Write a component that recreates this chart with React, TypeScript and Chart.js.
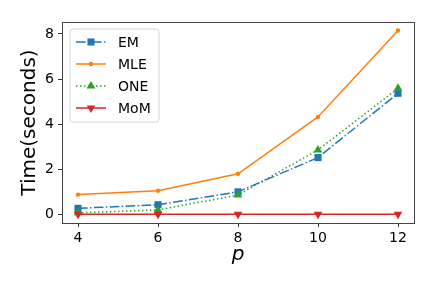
import React, { useEffect, useRef } from "react";
import { Chart, registerables } from "chart.js";

Chart.register(...registerables);

const pValues = [4, 6, 8, 10, 12];
const xTickValues = [4, 6, 8, 10, 12];
const yTickValues = [0, 2, 4, 6, 8];
const emTimes = [0.27, 0.43, 1.0, 2.52, 5.37];
const mleTimes = [0.88, 1.05, 1.8, 4.32, 8.15];
const oneTimes = [0.07, 0.2, 0.86, 2.86, 5.59];
const momTimes = [0.01, 0.01, 0.01, 0.01, 0.01];
const seriesNames = ["EM", "MLE", "ONE", "MoM"];

const FONT = "'DejaVu Sans', 'Liberation Sans', sans-serif";

const toPoints = (ys: number[]) => pValues.map((x, i) => ({ x, y: ys[i] }));

const framePlugin = {
  id: "frame",
  afterDatasetsDraw(chart: any) {
    const { ctx, chartArea } = chart;
    ctx.save();
    ctx.strokeStyle = "#444";
    ctx.lineWidth = 1;
    ctx.strokeRect(
      Math.round(chartArea.left) + 0.5,
      Math.round(chartArea.top) + 0.5,
      Math.round(chartArea.right - chartArea.left),
      Math.round(chartArea.bottom - chartArea.top)
    );
    ctx.restore();
  },
};

const legendPlugin = {
  id: "customLegend",
  afterDraw(chart: any) {
    const { ctx } = chart;
    const bx = 70, by = 29, bw = 89, bh = 93, r = 3;
    ctx.save();
    ctx.beginPath();
    ctx.moveTo(bx + r, by);
    ctx.arcTo(bx + bw, by, bx + bw, by + bh, r);
    ctx.arcTo(bx + bw, by + bh, bx, by + bh, r);
    ctx.arcTo(bx, by + bh, bx, by, r);
    ctx.arcTo(bx, by, bx + bw, by, r);
    ctx.closePath();
    ctx.fillStyle = "rgba(255,255,255,0.85)";
    ctx.fill();
    ctx.strokeStyle = "#d4d4d4";
    ctx.lineWidth = 1;
    ctx.stroke();
    const rowY = [42, 64, 86, 108];
    chart.data.datasets.forEach((ds: any, i: number) => {
      const y = rowY[i];
      ctx.save();
      ctx.strokeStyle = ds.borderColor;
      ctx.lineWidth = ds.borderWidth;
      ctx.setLineDash(ds.borderDash || []);
      ctx.beginPath();
      ctx.moveTo(76, y);
      ctx.lineTo(106, y);
      ctx.stroke();
      ctx.restore();
      ctx.save();
      ctx.setLineDash([]);
      ctx.fillStyle = ds.pointBackgroundColor;
      ctx.strokeStyle = ds.pointBackgroundColor;
      ctx.translate(91, y);
      ctx.rotate(((ds.pointRotation || 0) * Math.PI) / 180);
      const rad = ds.pointRadius;
      ctx.beginPath();
      if (ds.pointStyle === "rect") {
        const s = rad * Math.SQRT1_2;
        ctx.rect(-s, -s, 2 * s, 2 * s);
      } else if (ds.pointStyle === "triangle") {
        let a = 0;
        ctx.moveTo(Math.sin(a) * rad, -Math.cos(a) * rad);
        a += (2 * Math.PI) / 3;
        ctx.lineTo(Math.sin(a) * rad, -Math.cos(a) * rad);
        a += (2 * Math.PI) / 3;
        ctx.lineTo(Math.sin(a) * rad, -Math.cos(a) * rad);
        ctx.closePath();
      } else {
        ctx.arc(0, 0, rad, 0, Math.PI * 2);
      }
      ctx.fill();
      ctx.restore();
      ctx.fillStyle = "#000";
      ctx.font = `14px ${FONT}`;
      ctx.textBaseline = "middle";
      ctx.textAlign = "left";
      ctx.fillText(ds.label, 118, y + 1);
    });
    ctx.restore();
  },
};

export default function App() {
  const canvasRef = useRef<HTMLCanvasElement | null>(null);

  useEffect(() => {
    const canvas = canvasRef.current;
    if (!canvas) return;
    const chart = new Chart(canvas, {
      type: "line",
      data: {
        datasets: [
          {
            label: seriesNames[0],
            data: toPoints(emTimes),
            borderColor: "#1f77b4",
            backgroundColor: "#1f77b4",
            pointBackgroundColor: "#1f77b4",
            borderWidth: 1.5,
            borderDash: [9.6, 2.4, 1.5, 2.4],
            pointStyle: "rect",
            pointRadius: 5,
            pointBorderWidth: 0,
            order: 4,
          } as any,
          {
            label: seriesNames[1],
            data: toPoints(mleTimes),
            borderColor: "#ff7f0e",
            backgroundColor: "#ff7f0e",
            pointBackgroundColor: "#ff7f0e",
            borderWidth: 1.5,
            pointStyle: "circle",
            pointRadius: 2.2,
            pointBorderWidth: 0,
            order: 3,
          },
          {
            label: seriesNames[2],
            data: toPoints(oneTimes),
            borderColor: "#2ca02c",
            backgroundColor: "#2ca02c",
            pointBackgroundColor: "#2ca02c",
            borderWidth: 1.5,
            borderDash: [1.5, 2.5],
            pointStyle: "triangle",
            pointRadius: 5,
            pointBorderWidth: 0,
            order: 2,
          },
          {
            label: seriesNames[3],
            data: toPoints(momTimes),
            borderColor: "#d62728",
            backgroundColor: "#d62728",
            pointBackgroundColor: "#d62728",
            borderWidth: 1.5,
            pointStyle: "triangle",
            pointRotation: 180,
            pointRadius: 5,
            pointBorderWidth: 0,
            order: 1,
          },
        ],
      },
      options: {
        animation: false,
        responsive: false,
        maintainAspectRatio: false,
        devicePixelRatio: 1,
        layout: { padding: { top: 22, right: 22, left: 0, bottom: 0 } },
        plugins: { legend: { display: false }, tooltip: { enabled: false } },
        elements: { line: { tension: 0 } },
        scales: {
          x: {
            type: "linear",
            min: 3.6,
            max: 12.4,
            afterBuildTicks: (scale: any) => {
              scale.ticks = xTickValues.map((v) => ({ value: v }));
            },
            afterFit: (scale: any) => {
              scale.height = 68;
            },
            grid: {
              display: true,
              drawOnChartArea: false,
              drawTicks: true,
              tickLength: 4,
              tickColor: "#333",
            },
            border: { display: false },
            ticks: {
              color: "#000",
              font: { family: FONT, size: 14 },
              padding: 3,
              maxRotation: 0,
              autoSkip: false,
            },
            title: {
              display: true,
              text: "p",
              color: "#000",
              font: { family: FONT, size: 20, style: "italic" },
              padding: { top: 0, bottom: 24 },
            },
          },
          y: {
            type: "linear",
            min: -0.38,
            max: 8.53,
            afterBuildTicks: (scale: any) => {
              scale.ticks = yTickValues.map((v) => ({ value: v }));
            },
            afterFit: (scale: any) => {
              scale.width = 62;
            },
            grid: {
              display: true,
              drawOnChartArea: false,
              drawTicks: true,
              tickLength: 4,
              tickColor: "#333",
            },
            border: { display: false },
            ticks: {
              color: "#000",
              font: { family: FONT, size: 14 },
              padding: 4,
              autoSkip: false,
            },
            title: {
              display: true,
              text: "Time(seconds)",
              color: "#000",
              font: { family: FONT, size: 20 },
              padding: { top: 18, bottom: 0 },
            },
          },
        },
      },
      plugins: [framePlugin, legendPlugin],
    });
    return () => chart.destroy();
  }, []);

  return (
    <div style={{ position: "fixed", left: 0, top: 0, width: 436, height: 291, background: "#fff" }}>
      <canvas ref={canvasRef} width={436} height={291} style={{ width: 436, height: 291, display: "block" }} />
    </div>
  );
}
